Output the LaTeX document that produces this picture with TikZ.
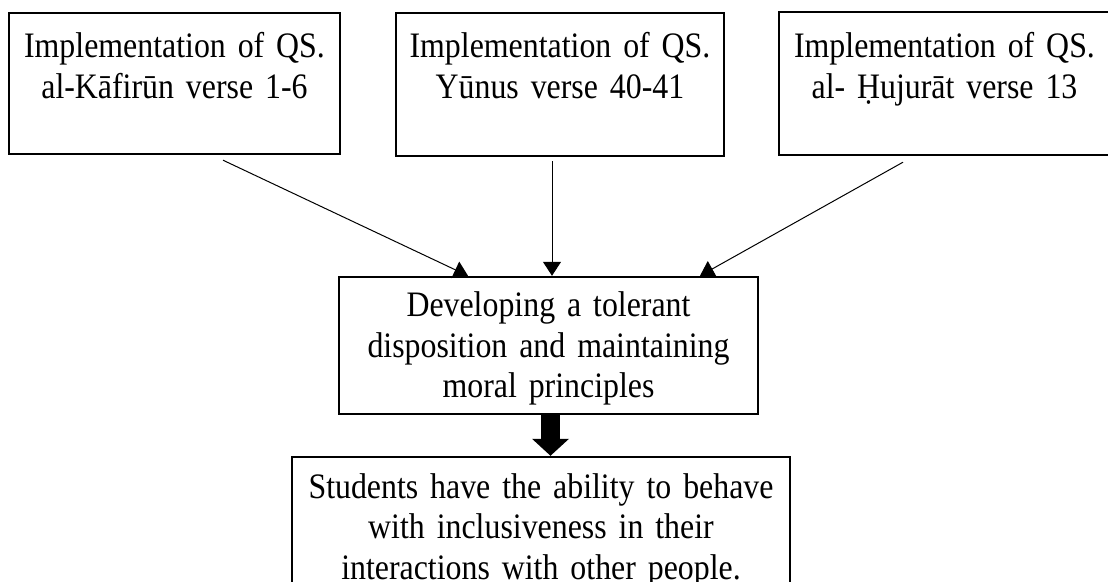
\documentclass[tikz,border=0pt]{standalone}
\usepackage{fontspec}
\setmainfont{Liberation Serif}[FakeStretch=0.89,WordSpace=0.8]
\usetikzlibrary{arrows.meta,calc,positioning}

\begin{document}
\begin{tikzpicture}
[x=0.5pt,y=-0.5pt,>={Triangle[length=7pt,width=9pt]},
box/.style = {draw, line width=1.2pt, align=center, inner sep=0pt, anchor=base,
  font=\fontsize{17.9pt}{20.25pt}\selectfont},
arr/.style = {->, line width=0.5pt},]
\useasboundingbox (0,0) rectangle (1108,582);
\clip (0,0) rectangle (1108,582);
\node (kafirun) at (174.5,58)[box,text width=165.5pt,text height=22.5pt,text depth=48pt] {Implementation of QS.\\al-Kāfirūn verse 1-6};
\node (yunus) at (560,58)[box,text width=164pt,text height=22.5pt,text depth=49pt] {Implementation of QS.\\Yūnus verse 40-41};
\node (hujurat) at (944.5,58)[box,text width=165.5pt,text height=23pt,text depth=48.5pt] {Implementation of QS.\\al- Ḥujurāt verse 13};
\node (develop) at (548.5,317)[box,text width=209.5pt,text height=20pt,text depth=48.5pt] {Developing a tolerant\\disposition and maintaining\\moral principles};
\node (students) at (541,498)[box,text width=249pt,text height=20.5pt,text depth=60pt] {Students have the ability to behave\\with inclusiveness in their\\interactions with other people.};
\coordinate (thick) at ($(develop.south)+(2,0)$);
\draw [arr] ($(kafirun.south)+(48.5,5)$) -- ($(develop.north)+(-80.5,0)$);
\draw [arr] ($(yunus.south)+(-8,4)$) -- ($(develop.north)+(3.5,0)$);
\draw [arr] ($(hujurat.south)+(-41.5,6)$) -- ($(develop.north)+(151.5,0)$);
\draw [line width=9.5pt,-{Triangle[length=8.5pt,width=18pt]}] (thick) -- (thick |- students.north);
\end{tikzpicture}
\end{document}
